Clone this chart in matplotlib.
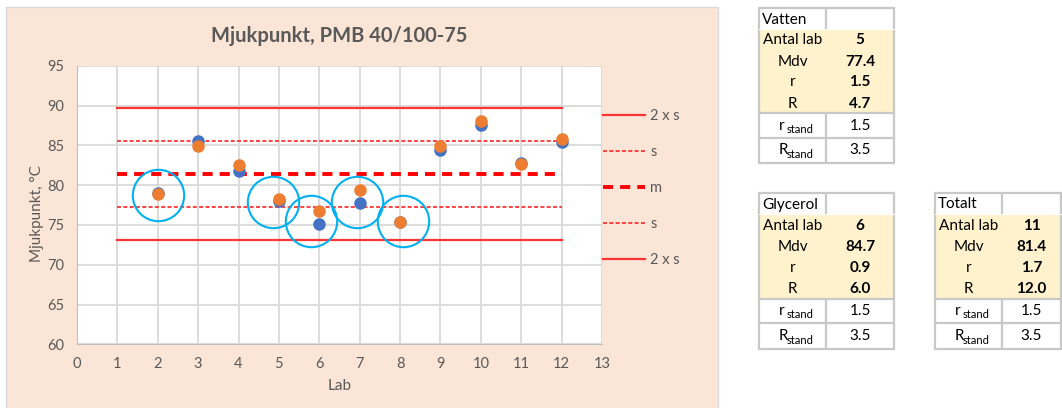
import numpy as np
import matplotlib
matplotlib.use("Agg")
import matplotlib.pyplot as plt
from matplotlib.patches import Rectangle

plt.rcParams['font.family'] = ['Lato', 'DejaVu Sans']

#---------------------DATA------------------------
labs = [2, 3, 4, 5, 6, 7, 8, 9, 10, 11, 12]
res_blue = [79.0, 85.6, 81.8, 78.0, 75.1, 77.7, 75.35, 84.4, 87.6, 82.8, 85.4]
res_orange = [78.85, 84.85, 82.5, 78.2, 76.8, 79.35, 75.35, 84.9, 88.1, 82.6, 85.8]

mean_m = 81.4
s_val = 4.15
line_x = [1, 12]

# circled (outlier) labs
circle_x = [2.0, 4.86, 5.79, 6.94, 8.08]
circle_y = [78.75, 77.9, 75.5, 77.9, 75.5]

xticks = list(range(0, 14))
yticks = [60, 65, 70, 75, 80, 85, 90, 95]

tab_rows = ["Antal lab", "Mdv", "r", "R"]
vatten_vals = ["5", "77.4", "1.5", "4.7"]
glycerol_vals = ["6", "84.7", "0.9", "6.0"]
totalt_vals = ["11", "81.4", "1.7", "12.0"]
stand_vals = ["1.5", "3.5"]
#-------------------------------------------------

W, H = 1062, 408
fig = plt.figure(figsize=(W/100., H/100.), dpi=100)
fig.patch.set_facecolor("white")

# background / tables axes in pixel coordinates
bg = fig.add_axes([0, 0, 1, 1], zorder=-1)
bg.set_xlim(0, W)
bg.set_ylim(H, 0)
bg.axis("off")
bg.add_patch(Rectangle((6, 7), 712, 410, facecolor="#FBE5D6", edgecolor="#D9D9D9", lw=1))

grey = "#595959"
ax = fig.add_axes([77./W, 1-344.3/H, (602-77.)/W, (344.3-65.7)/H])
ax.set_facecolor("white")
ax.set_xlim(0, 13)
ax.set_ylim(60, 95)
ax.set_xticks(xticks)
ax.set_yticks(yticks)
ax.grid(color="#D9D9D9", linewidth=1.3, zorder=0)
ax.set_axisbelow(True)
for sp in ax.spines.values():
    sp.set_visible(False)
ax.spines['left'].set_visible(True)
ax.spines['bottom'].set_visible(True)
ax.spines['left'].set_color("#BFBFBF")
ax.spines['bottom'].set_color("#BFBFBF")
ax.tick_params(length=0, labelsize=10.5, labelcolor=grey, pad=9)
ax.set_xlabel("Lab", fontsize=11, color=grey, labelpad=6)
ax.set_ylabel("Mjukpunkt, °C", fontsize=11, color=grey, labelpad=16)
ax.yaxis.set_label_coords(-33./525, 0.47)
ax.set_title("Mjukpunkt, PMB 40/100-75", fontsize=14.5, fontweight="bold", color=grey, pad=17)

red = "#FF3333"
l1, = ax.plot(line_x, [mean_m + 2*s_val]*2, color=red, lw=1.6, label="2 x s")
l2, = ax.plot(line_x, [mean_m + s_val]*2, color=red, lw=1.3, dashes=(2.2, 1.3), label="s")
l3, = ax.plot(line_x, [mean_m]*2, color="#FF0000", lw=2.8, dashes=(2.6, 1.8), label="m")
l4, = ax.plot(line_x, [mean_m - s_val]*2, color=red, lw=1.3, dashes=(2.2, 1.3), label="s")
l5, = ax.plot(line_x, [mean_m - 2*s_val]*2, color=red, lw=1.6, label="2 x s")

ax.plot(labs, res_blue, "o", color="#4472C4", ms=8, zorder=4)
ax.plot(labs, res_orange, "o", color="#ED7D31", ms=8, zorder=5)
ax.plot(circle_x, circle_y, "o", mfc="none", mec="#00B0F0", ms=37, mew=1.5, zorder=6)

leg = ax.legend(handles=[l1, l2, l3, l4, l5], loc="upper left",
                bbox_to_anchor=(603./W, 1-109.5/H), bbox_transform=fig.transFigure,
                frameon=False, fontsize=10.5, labelcolor=grey, handlelength=2.9,
                handletextpad=0.35, labelspacing=1.5, borderaxespad=0, borderpad=0)


#------------Tables--------------
def draw_table(x0, xmid, x1, ys, title, vals):
    # ys: header top, header bottom, highlight bottom, rstand bottom, Rstand bottom
    bc = "#C8C8C8"
    hl = (ys[2] - ys[1]) / 4.
    bg.add_patch(Rectangle((x0, ys[1]), x1 - x0, ys[2] - ys[1], facecolor="#FFF2CC", edgecolor="none"))
    bg.add_patch(Rectangle((x0, ys[0]), x1 - x0, ys[4] - ys[0], facecolor="none", edgecolor=bc, lw=1.6))
    bg.plot([xmid, xmid], [ys[0], ys[1]], color=bc, lw=1.6)
    bg.plot([xmid, xmid], [ys[2], ys[4]], color=bc, lw=1.6)
    bg.plot([x0, x1], [ys[1], ys[1]], color="white", lw=0.8)
    for y in (ys[2], ys[3]):
        bg.plot([x0, x1], [y, y], color=bc, lw=1.6)
    c1 = (x0 + xmid) / 2.
    c2 = (xmid + x1) / 2.
    bg.text(x0 + 3, (ys[0] + ys[1]) / 2. + 1, title, fontsize=11, ha="left", va="center")
    for i in range(4):
        yc = ys[1] + hl * (i + 0.5) + 1
        bg.text(c1, yc, tab_rows[i], fontsize=11, ha="center", va="center")
        bg.text(c2, yc, vals[i], fontsize=11, ha="center", va="center", fontweight="bold")
    for j, (top, bot, letter) in enumerate([(ys[2], ys[3], "r"), (ys[3], ys[4], "R")]):
        yc = (top + bot) / 2.
        bg.text(c1 - 14, yc, letter, fontsize=11, ha="left", va="center")
        bg.text(c1 - 6, yc + 4, "stand", fontsize=8, ha="left", va="center")
        bg.text(c2, yc, stand_vals[j], fontsize=11, ha="center", va="center")


draw_table(759, 826, 894, [8, 29, 113, 138, 163], "Vatten", vatten_vals)
draw_table(759, 826, 894, [193, 214, 299, 323, 349], "Glycerol", glycerol_vals)
draw_table(935, 1002, 1061, [193, 214, 299, 323, 349], "Totalt", totalt_vals)

fig.savefig("out.png", dpi=100)
